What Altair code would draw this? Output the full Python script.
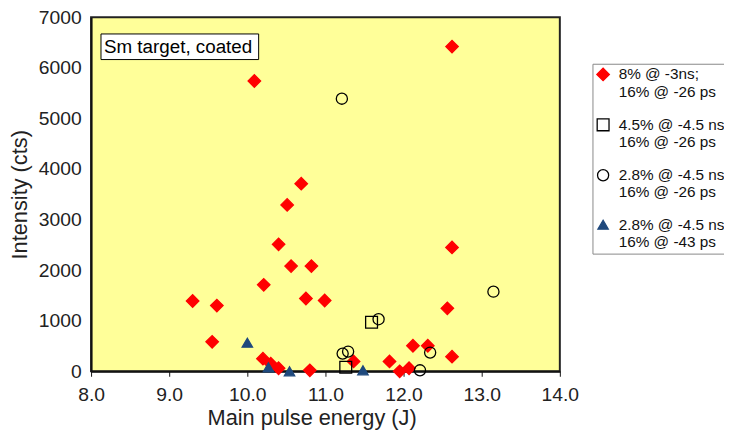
import altair as alt
import pandas as pd

# Series values
red_x = [9.30, 9.61, 9.55, 10.09, 10.69, 10.51, 10.40, 10.56, 10.82, 10.21, 10.75, 10.99,
         10.20, 10.30, 10.40, 10.80, 11.36, 11.82, 11.95, 12.07, 12.12, 12.31, 12.56, 12.62,
         12.62, 12.62]
red_y = [1390, 1300, 583, 5740, 3710, 3290, 2510, 2080, 2080, 1710, 1440, 1400,
         250, 150, 60, 20, 195, 195, 0, 60, 505, 505, 1245, 290,
         6420, 2450]
sq_x = [11.59, 11.26]
sq_y = [970, 80]
circ_x = [11.21, 11.68, 11.22, 11.29, 12.21, 12.34, 13.15]
circ_y = [5390, 1030, 350, 390, 20, 370, 1575]
tri_x = [10.00, 10.27, 10.54, 11.48]
tri_y = [565, 80, 0, 20]

series_names = [
    "8% @ -3ns;|16% @ -26 ps",
    "4.5% @ -4.5 ns|16% @ -26 ps",
    "2.8% @ -4.5 ns|16% @ -26 ps",
    "2.8% @ -4.5 ns|16% @ -43 ps",
]
shapes = ["diamond", "square", "circle", "triangle-up"]
fills = ["#FF0000", "transparent", "transparent", "#1F497D"]
strokes = ["#FF0000", "#000000", "#000000", "#1F497D"]
sizes = [160, 110, 130, 200]

x_ticks = [8, 9, 10, 11, 12, 13, 14]
y_ticks = [0, 1000, 2000, 3000, 4000, 5000, 6000, 7000]

note_text = ["Sm target, coated"]
note_x = [8.165]
note_y = [6416]
note_box_x = [8.127]
note_box_x2 = [10.145]
note_box_y = [6164]
note_box_y2 = [6670]

rows = []
for name, xs, ys in zip(series_names, [red_x, sq_x, circ_x, tri_x], [red_y, sq_y, circ_y, tri_y]):
    for a, b in zip(xs, ys):
        rows.append({"series": name, "energy": a, "intensity": b})
df = pd.DataFrame(rows)

FONT = "Liberation Sans"

xscale = alt.Scale(domain=[8, 14], nice=False, zero=False)
yscale = alt.Scale(domain=[0, 7000], nice=False)

legend = alt.Legend(title=None, orient="none", legendX=507, legendY=47,
                    labelExpr="split(datum.label, '|')",
                    labelFontSize=15.5, labelFont=FONT, labelColor="#111",
                    labelLimit=200,
                    strokeColor="#888888", fillColor="white", padding=3,
                    rowPadding=16, labelOffset=8, symbolStrokeWidth=1.3)

points = alt.Chart(df).mark_point(filled=True, strokeWidth=1.3, opacity=1).encode(
    x=alt.X("energy:Q", scale=xscale,
            axis=alt.Axis(title="Main pulse energy (J)", values=x_ticks, format=".1f",
                          grid=False, tickSize=5, labelPadding=10, titleX=223,
                          titlePadding=3, labelFlush=False)),
    y=alt.Y("intensity:Q", scale=yscale,
            axis=alt.Axis(title="Intensity (cts)", values=y_ticks, format="d",
                          grid=False, tickSize=0, labelPadding=10, titlePadding=7,
                          labelFlush=False)),
    shape=alt.Shape("series:N", scale=alt.Scale(domain=series_names, range=shapes),
                    legend=legend),
    fill=alt.Fill("series:N", scale=alt.Scale(domain=series_names, range=fills),
                  legend=legend),
    stroke=alt.Stroke("series:N", scale=alt.Scale(domain=series_names, range=strokes),
                      legend=legend),
    size=alt.Size("series:N", scale=alt.Scale(domain=series_names, range=sizes),
                  legend=legend),
)

box_df = pd.DataFrame({"x": note_box_x, "x2": note_box_x2, "y": note_box_y, "y2": note_box_y2})
box = alt.Chart(box_df).mark_rect(fill="white", stroke="black", strokeWidth=1).encode(
    x=alt.X("x:Q", scale=xscale), x2="x2:Q", y=alt.Y("y:Q", scale=yscale), y2="y2:Q"
)
txt_df = pd.DataFrame({"x": note_x, "y": note_y, "t": note_text})
txt = alt.Chart(txt_df).mark_text(align="left", baseline="middle", fontSize=19, font=FONT,
                                  color="black").encode(
    x=alt.X("x:Q", scale=xscale), y=alt.Y("y:Q", scale=yscale), text="t:N"
)

chart = alt.layer(box, txt, points).properties(
    width=474, height=358,
    autosize=alt.AutoSizeParams(type="none"),
    padding={"left": 84, "top": 7, "right": 166, "bottom": 60},
).configure_view(
    fill="#FFFF99", stroke="#222222", strokeWidth=2
).configure_axis(
    labelFont=FONT, labelFontSize=19.5, labelColor="#222222",
    titleFont=FONT, titleFontSize=22, titleFontWeight="normal", titleColor="#222222",
    domainColor="#111111", domainWidth=2, tickColor="#111111",
)

chart.save("out.html", embed_options={"renderer": "svg", "actions": False})
